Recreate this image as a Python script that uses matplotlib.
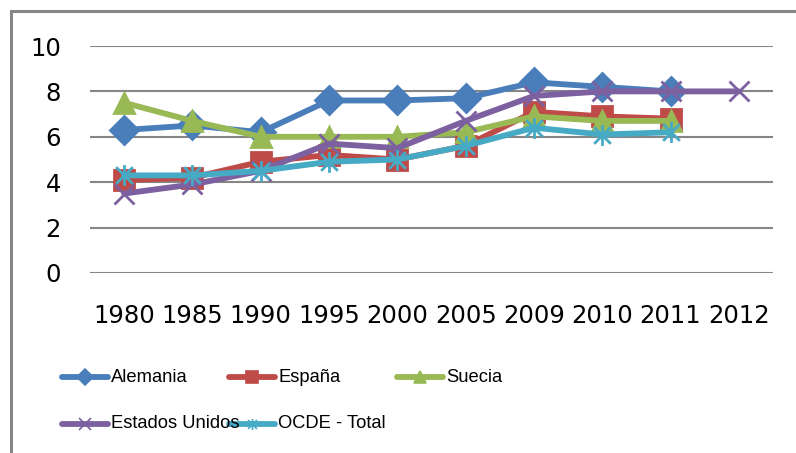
import numpy as np
import matplotlib
matplotlib.use("Agg")
import matplotlib.pyplot as plt
from matplotlib.lines import Line2D
from matplotlib.patches import Rectangle
from matplotlib.path import Path

years = ["1980", "1985", "1990", "1995", "2000", "2005", "2009", "2010", "2011", "2012"]
nan = np.nan
alemania = [6.3, 6.5, 6.2, 7.6, 7.6, 7.7, 8.4, 8.2, 8.0, nan]
espana = [4.1, 4.2, 4.9, 5.2, 5.0, 5.6, 7.1, 6.9, 6.8, nan]
suecia = [7.5, 6.7, 6.0, 6.0, 6.0, 6.2, 6.9, 6.7, 6.7, nan]
estados_unidos = [3.5, 3.9, 4.5, 5.7, 5.5, 6.7, 7.8, 8.0, 8.0, 8.0]
ocde = [4.3, 4.3, 4.5, 4.9, 5.0, 5.6, 6.4, 6.1, 6.2, nan]
names = ["Alemania", "España", "Suecia", "Estados Unidos", "OCDE - Total"]
y_ticks = [0, 2, 4, 6, 8, 10]

# Excel-style "star" marker: an x with a vertical bar
star = Path([(-1, -1), (1, 1), (-1, 1), (1, -1), (0, -1.25), (0, 1.25)],
            [Path.MOVETO, Path.LINETO, Path.MOVETO, Path.LINETO, Path.MOVETO, Path.LINETO])

colors = ["#4A7EBB", "#BE4B48", "#98B954", "#7D60A0", "#46AAC5"]
markers = ["D", "s", "^", "x", star]
msizes = [14, 14, 15, 14, 15]
series = [alemania, espana, suecia, estados_unidos, ocde]

W, H = 796, 453
fig = plt.figure(figsize=(W / 100, H / 100), dpi=100)
ax = fig.add_axes([90 / W, 1 - 273 / H, (773 - 90) / W, (273 - 46) / H])

x = np.arange(len(years))
for vals, c, m, ms, nm in zip(series, colors, markers, msizes, names):
    ax.plot(x, vals, color=c, lw=4.2, marker=m, ms=ms, mew=2.0,
            mec=c, mfc=c, label=nm, solid_capstyle="round", zorder=3)

ax.set_xlim(-0.5, len(years) - 0.5)
ax.set_ylim(0, 10)
ax.set_yticks(y_ticks)
ax.set_xticks(x)
ax.set_xticklabels(years)
ax.yaxis.grid(True, color="#868686", lw=1.5)
ax.set_axisbelow(True)
for s in ax.spines.values():
    s.set_visible(False)
ax.tick_params(axis="both", length=0, labelsize=17.5, colors="black")
ax.tick_params(axis="y", pad=21)
ax.tick_params(axis="x", pad=22)

# figure border
fig.add_artist(Rectangle((11 / W, -0.1), 1.2, 1 - 11 / H + 0.1, transform=fig.transFigure,
                         fill=False, edgecolor="#868686", lw=2.2))

# legend
leg_pos = [(62, 377), (229, 377), (397, 377), (62, 424), (229, 424)]
for (lx, ly), c, m, nm in zip(leg_pos, colors, markers, names):
    fx0, fx1, fy = lx / W, (lx + 46) / W, 1 - ly / H
    fig.add_artist(Line2D([fx0, fx1], [fy, fy], transform=fig.transFigure,
                          color=c, lw=4.2, solid_capstyle="round"))
    fig.add_artist(Line2D([(lx + 23) / W], [fy], transform=fig.transFigure,
                          color=c, marker=m, ms=8, mew=1.2, mec=c, mfc=c, ls="none"))
    fig.text((lx + 49) / W, fy, nm, fontsize=13.2, va="center", ha="left",
             family=["Liberation Sans", "DejaVu Sans"])

fig.savefig("out.png", dpi=100)
